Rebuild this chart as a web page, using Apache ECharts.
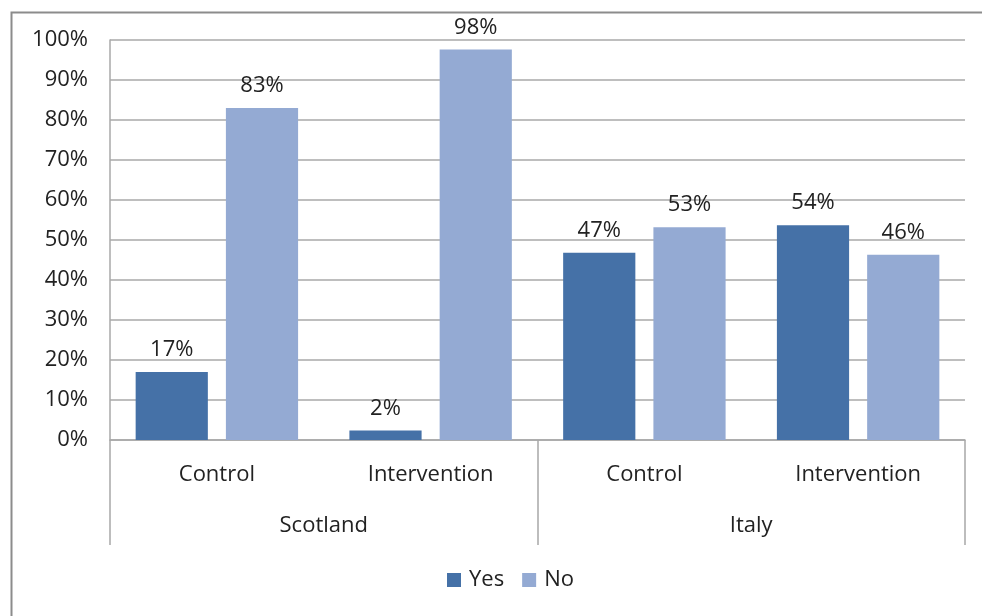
<!DOCTYPE html>
<html>
<head>
<meta charset="utf-8">
<script src="https://cdn.jsdelivr.net/npm/echarts@6/dist/echarts.min.js"></script>
<style>
  html, body { margin: 0; padding: 0; background: #fff; }
  #chart { width: 982px; height: 616px; }
</style>
</head>
<body>
<div id="chart"></div>
<script>
// data
const subCats = ['Control', 'Intervention', 'Control', 'Intervention'];
const groups = ['Scotland', 'Italy'];
const yesVals = [17, 2.4, 46.8, 53.7];
const noVals = [83, 97.6, 53.2, 46.3];
const yTicks = [0, 10, 20, 30, 40, 50, 60, 70, 80, 90, 100];

const font = '"Open Sans", "Liberation Sans", sans-serif';
const txt = '#222';
const gridGray = '#a8a8a8';
const fs = 22;

let chart = echarts.init(document.getElementById('chart'), null, { renderer: 'canvas' });

let barLabel = {
  show: true,
  position: 'top',
  distance: 11,
  color: txt,
  fontFamily: font,
  fontSize: fs,
  formatter: p => Math.round(p.value) + '%'
};

chart.setOption({
  backgroundColor: '#fff',
  animation: false,
  graphic: [{
    type: 'rect',
    left: 9, top: 10,
    shape: { width: 1100, height: 800 },
    style: { fill: 'none', stroke: '#8c8c8c', lineWidth: 2 },
    silent: true,
    z: -1
  }],
  grid: { left: 110, right: 17, top: 40, bottom: 176, containLabel: false },
  legend: {
    bottom: 20,
    left: 442,
    itemWidth: 14,
    itemHeight: 14,
    itemGap: 18,
    icon: 'rect',
    textStyle: { color: txt, fontFamily: font, fontSize: fs, padding: [0, 0, 0, 3] },
    data: ['Yes', 'No']
  },
  xAxis: [{
    type: 'category',
    data: subCats,
    axisLine: { show: true, lineStyle: { color: gridGray, width: 1.5 } },
    axisTick: { show: false },
    axisLabel: { margin: 24, color: txt, fontFamily: font, fontSize: fs }
  }, {
    type: 'category',
    data: groups,
    position: 'bottom',
    axisLine: { show: false },
    axisTick: { show: true, length: 105, lineStyle: { color: gridGray, width: 1.5 } },
    axisLabel: { margin: 75, color: txt, fontFamily: font, fontSize: fs },
    splitLine: { show: false }
  }],
  yAxis: {
    type: 'value',
    min: 0,
    max: 100,
    interval: 10,
    axisLine: { show: true, lineStyle: { color: gridGray, width: 1.5 } },
    axisTick: { show: false },
    splitLine: { lineStyle: { color: gridGray, width: 1.5 } },
    axisLabel: {
      margin: 22,
      color: txt,
      fontFamily: font,
      fontSize: fs,
      formatter: v => (yTicks.indexOf(v) >= 0 ? v + '%' : '')
    }
  },
  series: [{
    name: 'Yes',
    type: 'bar',
    data: yesVals,
    barGap: '25%',
    barCategoryGap: '24%',
    itemStyle: { color: '#4571a7' },
    label: barLabel
  }, {
    name: 'No',
    type: 'bar',
    data: noVals,
    itemStyle: { color: '#94aad3' },
    label: barLabel
  }]
});
</script>
</body>
</html>
